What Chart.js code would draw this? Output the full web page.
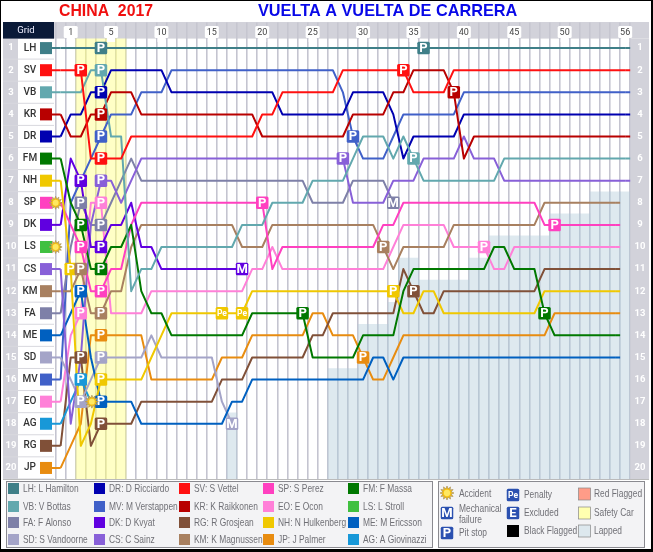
<!DOCTYPE html>
<html>
<head>
<meta charset="utf-8">
<title>China 2017</title>
<script src="https://cdn.jsdelivr.net/npm/chart.js@4"></script>
<style>
body { margin: 0; background: #fff; }
canvas { display: block; }
</style>
</head>
<body>
<canvas id="myChart" width="653" height="552"></canvas>
<script>
const laps = ['0','1','2','3','4','5','6','7','8','9','10','11','12','13','14','15','16','17','18','19','20','21','22','23','24','25','26','27','28','29','30','31','32','33','34','35','36','37','38','39','40','41','42','43','44','45','46','47','48','49','50','51','52','53','54','55','56'];
const lapTicks = ['1','5','10','15','20','25','30','35','40','45','50','56'];
const positions = [1,2,3,4,5,6,7,8,9,10,11,12,13,14,15,16,17,18,19,20];

// position per lap, index 0 is the grid
const LH = [1,1,1,1,1,1,1,1,1,1, 1,1,1,1,1,1,1,1,1,1, 1,1,1,1,1,1,1,1,1,1, 1,1,1,1,1,1,1,1,1,1, 1,1,1,1,1,1,1,1,1,1, 1,1,1,1,1,1,1];
const SV = [2,2,2,6,6,6,6,5,5,5, 5,5,5,5,5,5,5,5,5,5, 4,4,3,3,3,3,3,3,2,2, 2,2,2,2,2,3,3,3,3,2, 2,2,2,2,2,2,2,2,2,2, 2,2,2,2,2,2,2];
const VB = [3,3,3,2,2,5,5,12,11,11, 10,10,10,10,10,10,10,10,9,9, 9,8,8,8,8,7,7,7,7,6, 5,5,5,6,5,6,7,7,7,7, 7,7,7,7,6,6,6,6,6,6, 6,6,6,6,6,6,6];
const KR = [4,5,5,4,4,3,3,3,4,4, 4,4,4,4,4,4,4,4,4,4, 5,5,5,5,5,5,5,5,5,4, 4,4,4,3,3,2,2,2,2,3, 6,5,5,5,5,5,5,5,5,5, 5,5,5,5,5,5,5];
const DR = [5,4,4,3,3,2,2,2,2,2, 2,3,3,3,3,3,3,3,3,3, 3,3,4,4,4,4,4,4,4,3, 3,3,3,4,6,5,5,5,5,5, 4,4,4,4,4,4,4,4,4,4, 4,4,4,4,4,4,4];
const FM = [6,8,9,11,11,10,10,9,12,13, 13,14,14,14,14,14,14,14,14,13, 13,13,13,13,13,15,15,15,15,15, 14,14,14,14,12,11,11,11,11,11, 11,11,11,10,10,11,11,11,13,14, 14,14,14,14,14,14];
const NH = [7,11,19,18,16,16,16,16,16,15, 14,13,13,13,13,13,13,13,13,12, 12,12,12,12,12,12,12,12,12,12, 12,12,12,12,13,13,12,12,13,13, 13,13,13,13,13,13,13,13,12,12, 12,12,12,12,12,12];
const SP = [8,9,10,12,12,11,11,9,8,8, 8,8,8,8,8,8,8,8,8,8, 8,11,10,10,10,10,10,10,10,10, 10,10,9,9,8,8,8,8,8,8, 8,8,8,8,8,8,8,8,9,9, 9,9,9,9,9,9];
const DK = [9,6,7,10,10,9,9,8,10,10, 11,11,11,11,11,11,11,11,11];
const LS = [10];
const CS = [11,18,15,9,7,7,8,7,6,6, 6,6,6,6,6,6,6,6,6,6, 6,6,6,6,6,6,6,6,6,8, 8,8,8,7,7,7,6,6,6,6, 5,6,6,6,7,7,7,7,7,7, 7,7,7,7,7,7,7];
const KM = [12,12,11,13,13,12,12,10,9,9, 9,9,9,9,9,9,9,9,10,10, 10,9,9,9,9,9,9,9,9,9, 9,9,10,11,10,10,10,10,10,9, 9,9,9,9,9,9,9,9,8,8, 8,8,8,8,8,8];
const FA = [13,10,8,9,9,8,7,6,7,7, 7,7,7,7,7,7,7,7,7,7, 7,7,7,7,7,8,8,8,8,7, 7,7,7,8];
const ME = [14,13,12,15,17,17,17,17,18,18, 18,18,18,18,18,18,18,17,17,16, 16,16,16,16,16,16,16,16,16,16, 16,15,15,16,15,15,15,15,15,15, 15,15,15,15,15,15,15,15,15,15, 15,15,15,15,15,15];
const SD = [15,16,17,16,15,15,15,15,15,14, 15,15,15,15,15,15,17,18];
const MV = [16,8,7,6,5,4,4,4,3,3, 3,2,2,2,2,2,2,2,2,2, 2,2,2,2,2,2,2,2,3,5, 6,6,6,5,4,4,4,4,4,4, 3,3,3,3,3,3,3,3,3,3, 3,3,3,3,3,3,3];
const EO = [17,14,13,8,8,13,13,13,13,12, 12,12,12,12,12,12,12,12,12,11, 11,10,11,11,11,11,11,11,11,11, 11,11,11,10,9,9,9,9,9,10, 10,10,10,11,11,10,10,10,10,10, 10,10,10,10,10,10];
const AG = [18,17,16,17];
const RG = [19,15,15,19,18,18,18,18,17,17, 17,17,17,17,17,17,16,16,16,15, 15,15,15,15,15,14,14,13,13,13, 13,13,13,13,11,12,13,13,12,12, 12,12,12,12,12,12,12,12,11,11, 11,11,11,11,11,11];
const JP = [20,19,18,14,14,14,14,14,14,16, 16,16,16,16,16,16,15,15,15,14, 14,14,14,14,14,13,13,14,14,14, 15,16,16,15,14,14,14,14,14,14, 14,14,14,14,14,14,14,14,14,13, 13,13,13,13,13,13];

// first lapped position per lap, null where nobody was lapped
const lappedFrom = [null,null,null,null,null,null,null,null,null,null, null,null,null,null,null,null,null,18,null,null, null,null,null,null,null,null,null,16,16,16, 14,14,14,13,11,11,12,12,12,12, 12,11,11,10,10,10,10,10,10,9, 9,9,9,8,8,8,8];
const safetyCarLaps = ['2','3','4','5','6'];

const gridOrder = ['LH','SV','VB','KR','DR','FM','NH','SP','DK','LS','CS','KM','FA','ME','SD','MV','EO','AG','RG','JP'];
const series = {LH,SV,VB,KR,DR,FM,NH,SP,DK,LS,CS,KM,FA,ME,SD,MV,EO,AG,RG,JP};
const driverNames = {LH:'L Hamilton',VB:'V Bottas',FA:'F Alonso',SD:'S Vandoorne',DR:'D Ricciardo',MV:'M Verstappen',DK:'D Kvyat',CS:'C Sainz',SV:'S Vettel',KR:'K Raikkonen',RG:'R Grosjean',KM:'K Magnussen',SP:'S Perez',EO:'E Ocon',NH:'N Hulkenberg',JP:'J Palmer',FM:'F Massa',LS:'L Stroll',ME:'M Ericsson',AG:'A Giovinazzi'};
const legendOrder = ['LH','VB','FA','SD','DR','MV','DK','CS','SV','KR','RG','KM','SP','EO','NH','JP','FM','LS','ME','AG'];

const pitLaps = {LH:[4,36],SV:[2,4,34],VB:[4,35],KR:[4,39],DR:[4],FM:[2,4,24,48],NH:[1,4,33],SP:[2,4,20,49],DK:[2,4],CS:[4,28],KM:[2,4,32],FA:[2,4],ME:[2,4],SD:[2,4],MV:[4,29],EO:[2,4,42],AG:[2],RG:[2,4,35],JP:[4,30]};
const penaltyLaps = {NH:[16,18]};
const failureLaps = {DK:[18],SD:[17],FA:[33]};
const accidentLaps = {SP:[0],LS:[0],AG:[3]};

const colors = {LH:'#3f7f88',VB:'#62a8ae',FA:'#7e80a8',SD:'#a4a4c8',DR:'#0000b0',MV:'#4060c8',DK:'#6000e0',CS:'#8860d8',SV:'#ff1010',KR:'#b80000',RG:'#805038',KM:'#a88060',SP:'#ff40c0',EO:'#ff80d8',NH:'#f0c800',JP:'#e88c10',FM:'#007800',LS:'#40c040',ME:'#0060c0',AG:'#1898d8'};

const BAND = '#d2d2da';

function roundBox(ctx, x, y, w, h, r, fill) {
    ctx.beginPath();
    ctx.roundRect(x, y, w, h, r);
    ctx.fillStyle = fill;
    ctx.fill();
}

function narrowText(ctx, text, x, y) {
    ctx.save();
    ctx.translate(x, y);
    ctx.scale(0.8, 1);
    ctx.fillText(text, 0, 0);
    ctx.restore();
}

function drawSun(ctx, x, y, r) {
    ctx.beginPath();
    for (let i = 0; i < 24; i++) {
        const a = i * Math.PI / 12;
        const d = i % 2 ? r * 0.62 : r;
        ctx.lineTo(x + Math.cos(a) * d, y + Math.sin(a) * d);
    }
    ctx.closePath();
    ctx.fillStyle = '#f8c010';
    ctx.fill();
    ctx.strokeStyle = '#a89060';
    ctx.lineWidth = 0.7;
    ctx.stroke();
    ctx.beginPath();
    ctx.arc(x, y, r * 0.45, 0, 7);
    ctx.fillStyle = '#ffe860';
    ctx.fill();
}

function drawBadge(ctx, x, y, fill, letter) {
    roundBox(ctx, x - 6.25, y - 6.25, 12.5, 12.5, 1.5, fill);
    ctx.fillStyle = '#fff';
    ctx.textAlign = 'center';
    ctx.textBaseline = 'middle';
    ctx.font = letter.length > 1 ? 'bold 8.5px Roboto' : 'bold 13px Roboto';
    ctx.fillText(letter, x, y + 0.5);
}

function drawFrame(chart) {
    const ctx = chart.ctx;
    const y = chart.scales.y;
    const top = chart.chartArea.top;
    const bottom = chart.chartArea.bottom;
    const right = chart.chartArea.right;
    ctx.save();
    ctx.fillStyle = '#fff';
    ctx.fillRect(0, 0, 653, 552);
    ctx.fillStyle = '#000';
    ctx.fillRect(0, 0, 1, 552);
    ctx.fillRect(0, 0, 653, 1);
    ctx.fillRect(651, 0, 2, 552);
    ctx.fillRect(0, 549, 653, 3);

    ctx.font = 'bold 16.3px "Liberation Sans"';
    ctx.textBaseline = 'alphabetic';
    ctx.textAlign = 'left';
    ctx.fillStyle = '#f01010';
    ctx.fillText('CHINA  2017', 59, 16, 94);
    ctx.fillStyle = '#0808e8';
    ctx.fillText('VUELTA A VUELTA DE CARRERA', 258, 16);

    // top band, grid header, side columns
    ctx.fillStyle = BAND;
    ctx.fillRect(3, 22, 646, top - 22);
    ctx.fillRect(3, top, 15, bottom - top);
    ctx.fillRect(right, top, 649 - right, bottom - top);
    ctx.fillStyle = '#0a1a38';
    ctx.fillRect(3, 22, 51, top - 22);
    ctx.fillStyle = '#eef';
    ctx.font = '9.5px Roboto';
    ctx.textAlign = 'center';
    ctx.textBaseline = 'middle';
    ctx.fillText('Grid', 26, 30.5);

    positions.forEach(function (pos, i) {
        const py = y.getPixelForValue(pos);
        ctx.strokeStyle = '#d8d8de';
        ctx.lineWidth = 1;
        ctx.beginPath();
        ctx.moveTo(3, py + 11);
        ctx.lineTo(54, py + 11);
        ctx.stroke();
        ctx.fillStyle = '#fff';
        ctx.font = 'bold 9.5px Roboto';
        ctx.fillText(pos, 11, py);
        ctx.fillText(pos, 640, py);
        ctx.fillStyle = '#333';
        ctx.font = '500 10px Roboto';
        ctx.fillText(gridOrder[i], 30, py);
        ctx.fillStyle = colors[gridOrder[i]];
        ctx.fillRect(40, py - 6, 12, 12);
    });
    ctx.fillStyle = '#bbb';
    ctx.fillRect(3, bottom, 646, 1);

    // legend panels
    ctx.fillStyle = '#f3f3f5';
    ctx.strokeStyle = '#8a8a90';
    ctx.lineWidth = 1;
    ctx.fillRect(6.5, 481.5, 426, 66);
    ctx.strokeRect(6.5, 481.5, 426, 66);
    ctx.fillRect(438.5, 481.5, 206, 66);
    ctx.strokeRect(438.5, 481.5, 206, 66);
    ctx.font = '10.5px "Liberation Sans"';
    ctx.textAlign = 'left';
    const colX = [8, 94, 179, 263, 348];
    const rowY = [489, 507, 523, 540];
    legendOrder.forEach(function (code, i) {
        const cx = colX[Math.floor(i / 4)];
        const cy = rowY[i % 4];
        ctx.fillStyle = colors[code];
        ctx.fillRect(cx, cy - 6, 11, 11);
        ctx.fillStyle = '#707076';
        narrowText(ctx, code + ': ' + driverNames[code], cx + 15, cy);
    });
    ctx.fillStyle = '#707076';
    narrowText(ctx, 'Accident', 459, 494);
    narrowText(ctx, 'Mechanical', 459, 509);
    narrowText(ctx, 'failure', 459, 520);
    narrowText(ctx, 'Pit stop', 459, 533);
    narrowText(ctx, 'Penalty', 524, 495);
    narrowText(ctx, 'Excluded', 524, 513);
    narrowText(ctx, 'Black Flagged', 524, 531);
    narrowText(ctx, 'Red Flagged', 594, 494);
    narrowText(ctx, 'Safety Car', 594, 513);
    narrowText(ctx, 'Lapped', 594, 531);
    drawSun(ctx, 447, 493, 7);
    drawBadge(ctx, 447, 513, '#2a50b0', 'M');
    drawBadge(ctx, 447, 533, '#2a50b0', 'P');
    drawBadge(ctx, 513, 495, '#2a50b0', 'Pe');
    drawBadge(ctx, 513, 513, '#2a50b0', 'E');
    ctx.fillStyle = '#000';
    ctx.fillRect(507, 525, 12, 12);
    [['#ff9c88', 494], ['#ffffb0', 513], ['#dde8ee', 531]].forEach(function (swatch) {
        ctx.fillStyle = swatch[0];
        ctx.strokeStyle = '#888';
        ctx.fillRect(578.5, swatch[1] - 6, 12, 12);
        ctx.strokeRect(578.5, swatch[1] - 6, 12, 12);
    });
    ctx.restore();
}

const racePlugin = {
    id: 'race',
    beforeDraw: drawFrame,
    afterDatasetsDraw(chart) {
        const ctx = chart.ctx;
        const x = chart.scales.x;
        const y = chart.scales.y;
        const cell = x.getPixelForValue(1) - x.getPixelForValue(0);
        ctx.save();

        // line stubs from the grid box and past the last lap
        ctx.lineWidth = 2;
        gridOrder.forEach(function (code) {
            const data = series[code];
            const py0 = y.getPixelForValue(data[0]);
            ctx.strokeStyle = colors[code];
            ctx.beginPath();
            ctx.moveTo(52, py0);
            ctx.lineTo(x.getPixelForValue(0), py0);
            if (data.length > 55) {
                const last = data.length - 1;
                const pyEnd = y.getPixelForValue(data[last]);
                ctx.moveTo(x.getPixelForValue(last), pyEnd);
                ctx.lineTo(x.getPixelForValue(last) + cell / 2, pyEnd);
            }
            ctx.stroke();
        });

        // lap tabs over the top band
        lapTicks.forEach(function (lap) {
            const px = x.getPixelForValue(laps.indexOf(lap));
            roundBox(ctx, px - 7, 26, 14, 12, 1.5, '#fff');
            ctx.fillStyle = '#fff';
            ctx.fillRect(px - 4, 38, 8, 4);
            ctx.fillStyle = '#444';
            ctx.font = '9px Roboto';
            ctx.textAlign = 'center';
            ctx.textBaseline = 'middle';
            ctx.fillText(lap, px, 32.5);
        });

        function marks(table, letter) {
            Object.keys(table).forEach(function (code) {
                table[code].forEach(function (lap) {
                    drawBadge(ctx, x.getPixelForValue(lap), y.getPixelForValue(series[code][lap]), colors[code], letter);
                });
            });
        }
        marks(pitLaps, 'P');
        marks(penaltyLaps, 'Pe');
        marks(failureLaps, 'M');

        Object.keys(accidentLaps).forEach(function (code) {
            accidentLaps[code].forEach(function (lap) {
                const shift = lap === 0 ? -5 : 1;
                drawSun(ctx, x.getPixelForValue(lap) + shift, y.getPixelForValue(series[code][lap]), 6.5);
            });
        });
        ctx.restore();
    }
};

const lineSets = gridOrder.map(function (code) {
    return {
        type: 'line',
        label: code,
        data: series[code],
        borderColor: colors[code],
        borderWidth: 2,
        fill: false,
        tension: 0,
        pointRadius: 0,
        spanGaps: false,
        borderJoinStyle: 'round',
        order: 1
    };
});

const ctx = document.getElementById('myChart').getContext('2d');
const myChart = new Chart(ctx, {
    data: {
        labels: laps,
        datasets: [
            {
                type: 'bar',
                label: 'Lapped',
                data: lappedFrom.map(v => v === null ? null : [v - 0.5, 20.5]),
                backgroundColor: 'rgba(176,202,216,0.42)',
                borderWidth: 0,
                grouped: false,
                barPercentage: 1,
                categoryPercentage: 1,
                order: 10
            },
            {
                type: 'bar',
                label: 'Safety Car',
                data: laps.map(l => safetyCarLaps.includes(l) ? [0.5, 20.5] : null),
                backgroundColor: 'rgba(255,255,120,0.42)',
                borderWidth: 0,
                grouped: false,
                barPercentage: 1,
                categoryPercentage: 1,
                order: 11
            }
        ].concat(lineSets)
    },
    options: {
        responsive: false,
        animation: false,
        devicePixelRatio: 1,
        layout: { padding: { left: 55.6, right: 22.8, top: 38.6, bottom: 73 } },
        scales: {
            x: {
                position: 'top',
                offset: true,
                afterFit: s => { s.height = 0; },
                grid: { offset: true, color: '#c4c4d0', lineWidth: 1.6, tickLength: 16, tickColor: '#c6c6d0' },
                border: { display: false },
                ticks: { display: false, autoSkip: false }
            },
            y: {
                display: false,
                reverse: true,
                min: 0.57,
                max: 20.5
            }
        },
        plugins: {
            legend: { display: false },
            tooltip: { enabled: false }
        }
    },
    plugins: [racePlugin]
});
</script>
</body>
</html>
